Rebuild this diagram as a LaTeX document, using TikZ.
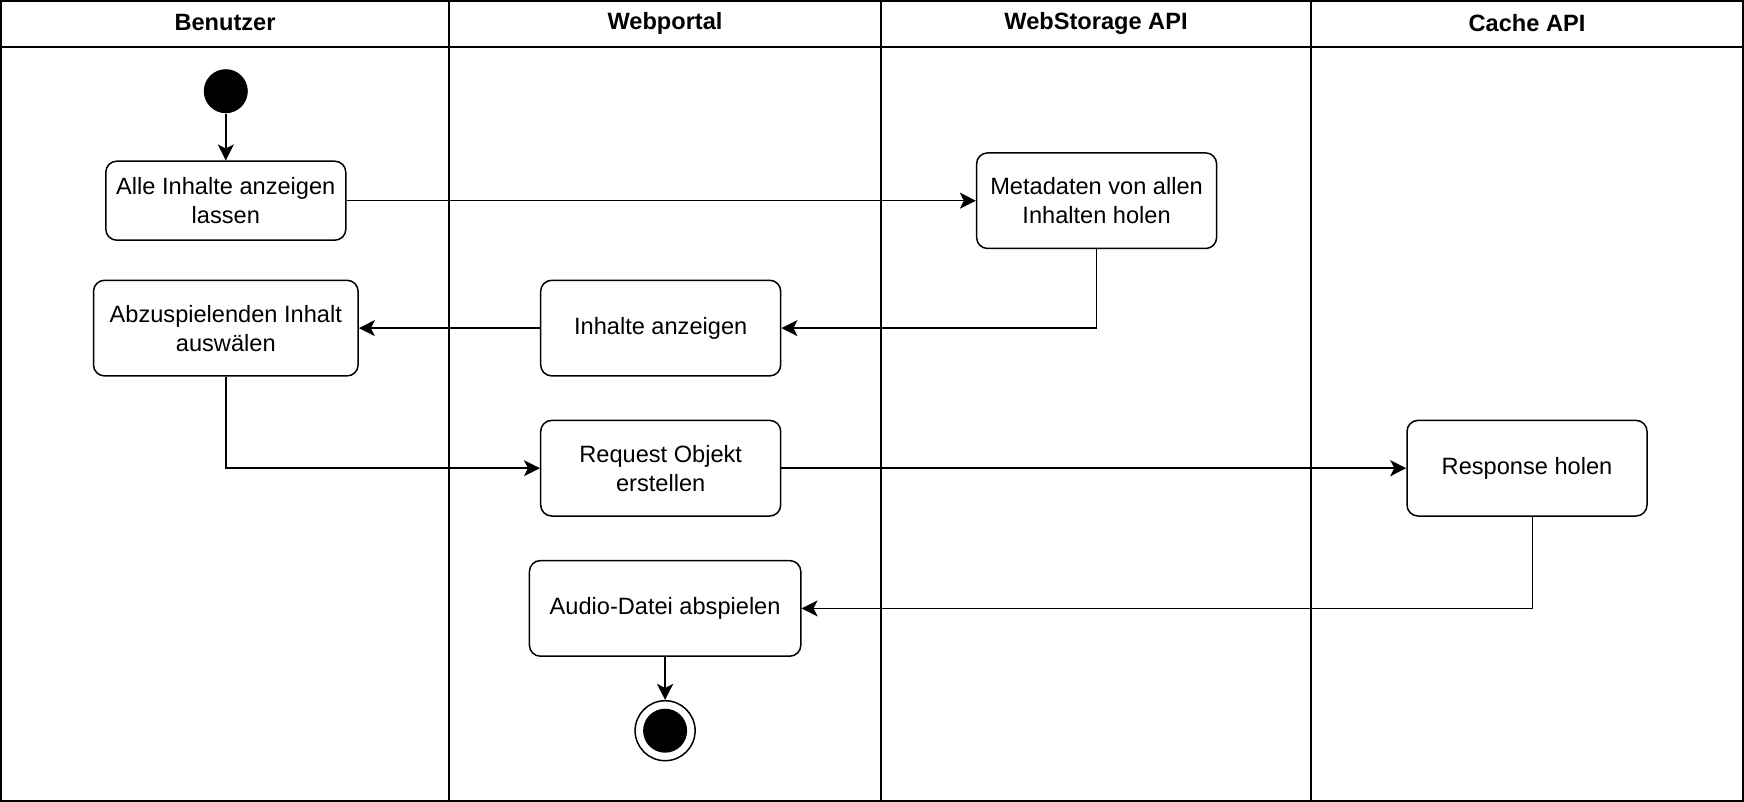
\documentclass[tikz,border=0pt]{standalone}
\usepackage{fontspec}
\setmainfont{Liberation Sans}
\usetikzlibrary{arrows.meta}

\begin{document}
\begin{tikzpicture}[x=0.5pt,y=-0.5pt,
    lane/.style={line width=1pt},
    act/.style={draw,rounded corners=5.5pt,line width=0.75pt,align=center,
      minimum width=120pt,minimum height=47.8pt,inner sep=0pt,
      font=\fontsize{11.8}{14.5}\selectfont},
    flow/.style={-{Stealth[length=8pt,width=8pt,inset=2pt]},line width=0.75pt},
    title/.style={font=\bfseries\fontsize{11.8}{14}\selectfont}]
  \useasboundingbox (0,0) rectangle (1744,802);
  % swimlanes
  \draw[lane] (1,1) rectangle (1743,801);
  \draw[lane] (1,46.7) -- (1743,46.7);
  \foreach \x in {449.3,880.9,1311.3}
    \draw[lane] (\x,1) -- (\x,801);
  \node[title] (hBenutzer) at (225,23) {Benutzer};
  \node[title] (hPortal) at (665,23) {Webportal};
  \node[title] (hStorage) at (1096,23) {WebStorage API};
  \node[title] (hCache) at (1527,23) {Cache API};
  % activities
  \node[circle,fill,minimum size=22pt,inner sep=0pt] (start) at (225.8,91.2) {};
  \node[act,minimum height=39.5pt] (alle) at (225.8,200.7) {Alle Inhalte anzeigen\\lassen};
  \node[act] (meta) at (1096.6,200.7) {Metadaten von allen\\Inhalten holen};
  \node[act,minimum width=132.3pt] (abzu) at (225.8,328.1) {Abzuspielenden Inhalt\\auswälen};
  \node[act] (inhalte) at (660.7,328.1) {Inhalte anzeigen};
  \node[act] (request) at (660.7,468.2) {Request Objekt\\erstellen};
  \node[act] (response) at (1527,468.2) {Response holen};
  \node[act,minimum width=135.7pt] (audio) at (665.1,608.4) {Audio-Datei abspielen};
  \node[circle,draw,line width=0.75pt,minimum size=30pt,inner sep=0pt] (end) at (665.1,730.7) {};
  \fill (end.center) circle[radius=11pt];
  % flows
  \draw[flow] (start) -- (alle);
  \draw[flow] (alle) -- (meta);
  \draw[flow] (meta.south) |- (inhalte.east);
  \draw[flow] (inhalte) -- (abzu);
  \draw[flow] (abzu.south) |- (request.west);
  \draw[flow] (request) -- (response);
  \draw[flow] ([xshift=2.8pt]response.south) |- (audio.east);
  \draw[flow] (audio) -- (end);
\end{tikzpicture}
\end{document}
